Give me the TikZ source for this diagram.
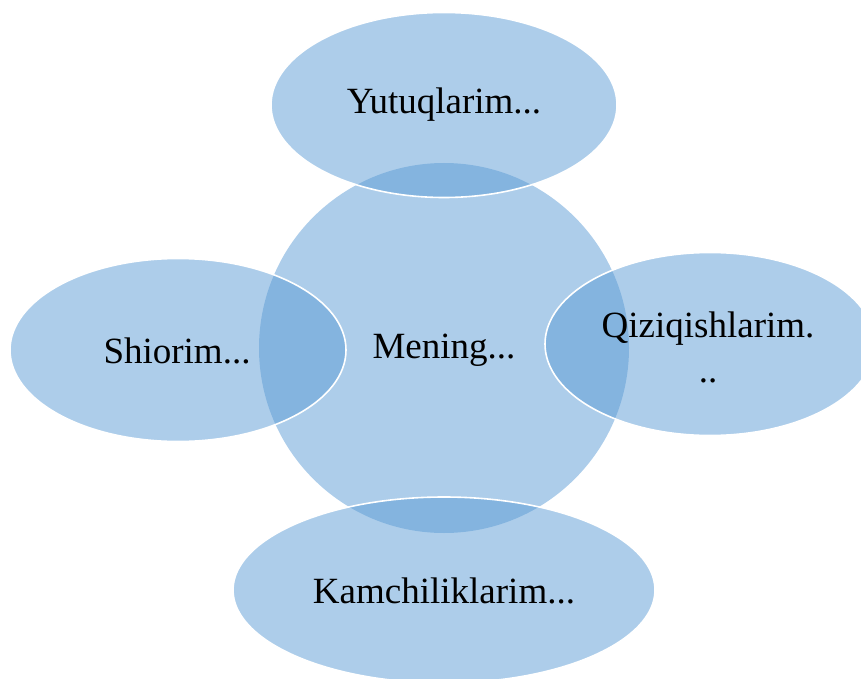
\documentclass[tikz,border=0pt]{standalone}
\usepackage{fontspec}
\setmainfont{Liberation Serif}
\usetikzlibrary{shapes.geometric}
\definecolor{accblue}{RGB}{91,155,213}
\tikzset{
  blob/.style={ellipse, fill=accblue, fill opacity=0.5, text opacity=1, inner sep=0pt, text=black,
    font=\fontsize{37}{40}\selectfont, align=center},
  sat/.style={blob, draw=white, draw opacity=1, line width=1.6pt},
  lbl/.style={font=\fontsize{37}{40}\selectfont, inner sep=0pt}
}
\begin{document}
\begin{tikzpicture}[x=1pt,y=-1pt]
\useasboundingbox (0,0) rectangle (861,679);
\node[blob, minimum width=370pt, minimum height=370pt] (c) at (444,348) {};
\node[sat, minimum width=346pt, minimum height=185pt] (top) at (444,105) {};
\node[sat, minimum width=336pt, minimum height=183pt] (left) at (178,350) {};
\node[sat, minimum width=330pt, minimum height=183pt] (right) at (710,344) {};
\node[sat, minimum width=422pt, minimum height=186pt] (bot) at (444,590) {};
\node[lbl] (ct) at (444,350) {Mening...};
\node[lbl] (tt) at (444,105) {Yutuqlarim...};
\node[lbl] (lt) at (177,351) {Shiorim...};
\node[lbl, align=center, font=\fontsize{37}{45}\selectfont] (rt) at (708,347) {Qiziqishlarim.\\..};
\node[lbl] (bt) at (444,591) {Kamchiliklarim...};
\end{tikzpicture}
\end{document}
